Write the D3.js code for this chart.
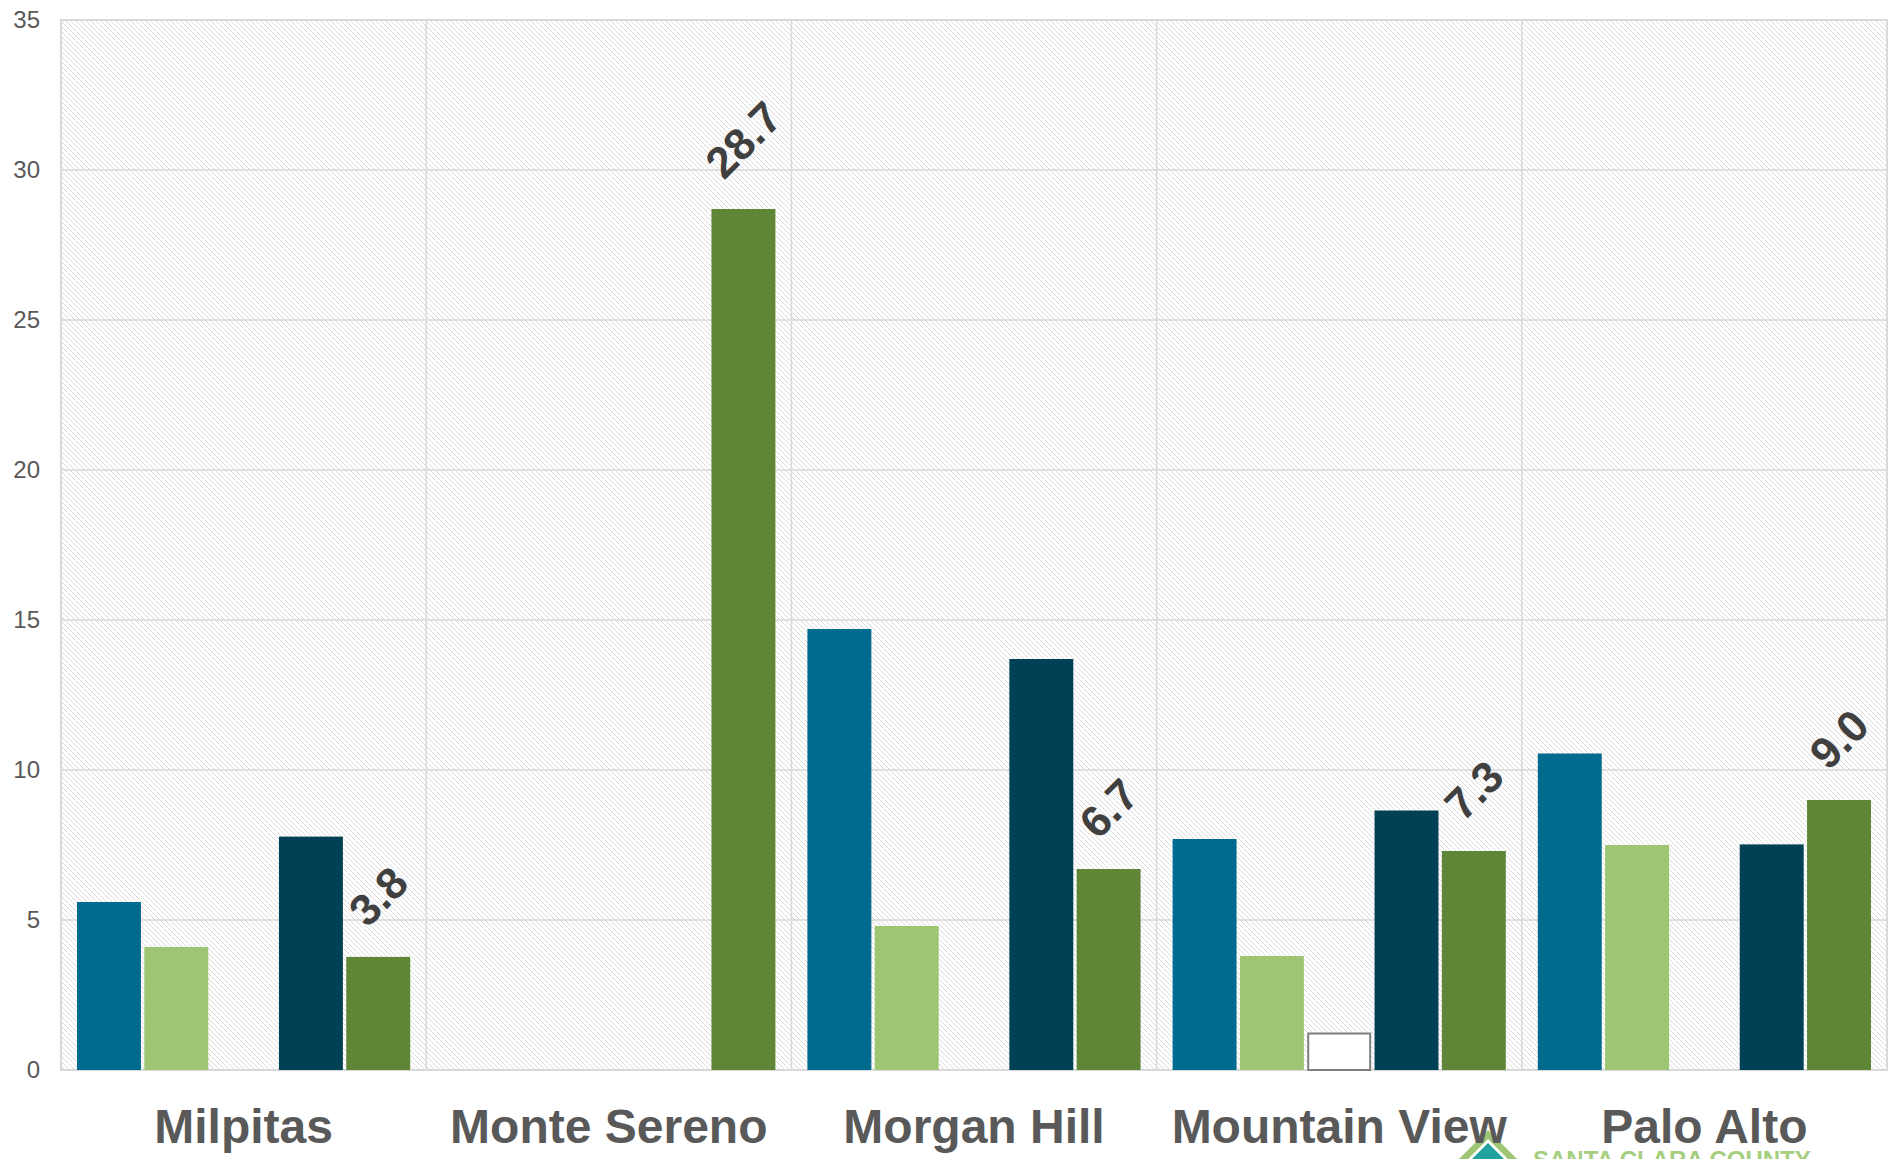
<!DOCTYPE html>
<html>
<head>
<meta charset="utf-8">
<script src="https://cdn.jsdelivr.net/npm/d3@7"></script>
<style>
  html, body { margin: 0; padding: 0; background: #ffffff; overflow: hidden; }
  svg { display: block; }
</style>
</head>
<body>
<svg id="chart" width="1896" height="1159"></svg>
<script>
// ---- data ----
const categories = ["Milpitas", "Monte Sereno", "Morgan Hill", "Mountain View", "Palo Alto"];
const seriesKeys = ["s1", "s2", "s3", "s4", "s5"];
const s1 = [5.6, null, 14.7, 7.7, 10.55];
const s2 = [4.1, null, 4.8, 3.8, 7.5];
const s3 = [null, null, null, 1.25, null];
const s4 = [7.78, null, 13.7, 8.65, 7.52];
const s5 = [3.77, 28.7, 6.7, 7.3, 9.0];
const labelSeries = "s5";
const yTicks = [0, 5, 10, 15, 20, 25, 30, 35];
const seriesColors = { s1: "#006b8e", s2: "#9dc573", s3: "#ffffff", s4: "#004155", s5: "#5e8636" };
const seriesStroke = { s1: "none", s2: "none", s3: "#7f7f7f", s4: "none", s5: "none" };
const logoText = "SANTA CLARA COUNTY";

const seriesValues = { s1, s2, s3, s4, s5 };

// ---- layout ----
const W = 1896, H = 1159;
const plot = { left: 61, top: 20, right: 1887, bottom: 1070 };
const svg = d3.select("#chart");

// hatch pattern
const defs = svg.append("defs");
const pat = defs.append("pattern")
  .attr("id", "hatch").attr("patternUnits", "userSpaceOnUse")
  .attr("width", 5).attr("height", 5);
pat.append("rect").attr("width", 5).attr("height", 5).attr("fill", "#ffffff");
pat.append("path").attr("d", "M-1,-1 L6,6 M-1,4 L1,6 M4,-1 L6,1")
  .attr("stroke", "#dadada").attr("stroke-width", 1);

const x0 = d3.scaleBand().domain(categories).range([plot.left, plot.right]).padding(0);
const cw = x0.bandwidth();
const x1 = d3.scaleBand().domain(seriesKeys).range([16, cw - 16]).paddingInner(0.05).paddingOuter(0);
const y = d3.scaleLinear().domain([0, 35]).range([plot.bottom, plot.top]);

// background
svg.append("rect")
  .attr("x", plot.left).attr("y", plot.top)
  .attr("width", plot.right - plot.left).attr("height", plot.bottom - plot.top)
  .attr("fill", "url(#hatch)");

// horizontal gridlines
svg.append("g").selectAll("line").data(yTicks).join("line")
  .attr("x1", plot.left).attr("x2", plot.right)
  .attr("y1", d => y(d)).attr("y2", d => y(d))
  .attr("stroke", "#d9d9d9").attr("stroke-width", 1.5);

// vertical category separators
const seps = categories.slice(1).map(c => x0(c));
svg.append("g").selectAll("line").data(seps).join("line")
  .attr("x1", d => d).attr("x2", d => d)
  .attr("y1", plot.top).attr("y2", plot.bottom)
  .attr("stroke", "#d9d9d9").attr("stroke-width", 1.5);

// plot border
svg.append("rect")
  .attr("x", plot.left).attr("y", plot.top)
  .attr("width", plot.right - plot.left).attr("height", plot.bottom - plot.top)
  .attr("fill", "none").attr("stroke", "#d9d9d9").attr("stroke-width", 2);

// y axis labels
const yAxis = d3.axisLeft(y).tickValues(yTicks).tickSize(0).tickPadding(0).tickFormat(d3.format("d"));
const gy = svg.append("g").attr("transform", `translate(40,0)`).call(yAxis);
gy.select(".domain").remove();
gy.selectAll("text")
  .attr("font-family", "Liberation Sans, Arial, sans-serif")
  .attr("font-size", 24).attr("fill", "#595959");

// bars
const barData = [];
categories.forEach((c, i) => {
  seriesKeys.forEach(k => {
    const v = seriesValues[k][i];
    if (v !== null && v !== undefined) barData.push({ c, k, v });
  });
});

svg.append("g").selectAll("rect").data(barData).join("rect")
  .attr("x", d => x0(d.c) + x1(d.k) + (d.k === "s3" ? 1 : 0))
  .attr("width", d => x1.bandwidth() - (d.k === "s3" ? 2 : 0))
  .attr("y", d => y(d.v) + (d.k === "s3" ? 1 : 0))
  .attr("height", d => plot.bottom - y(d.v) - (d.k === "s3" ? 1 : 0))
  .attr("fill", d => seriesColors[d.k])
  .attr("stroke", d => seriesStroke[d.k])
  .attr("stroke-width", 2);

// data labels (rotated)
const fs = 44;
const lbl = svg.append("g");
barData.filter(d => d.k === labelSeries).forEach(d => {
  const cx = x0(d.c) + x1(d.k) + x1.bandwidth() / 2;
  const t = lbl.append("text")
    .attr("font-family", "Liberation Sans, Arial, sans-serif")
    .attr("font-weight", "bold").attr("font-size", fs)
    .attr("fill", "#404040")
    .attr("text-anchor", "middle")
    .attr("dominant-baseline", "central")
    .text(d3.format(".1f")(d.v));
  const L = t.node().getComputedTextLength();
  const ext = (L + 0.72 * fs) / Math.SQRT2;
  const cy = y(d.v) - 28 - ext / 2;
  t.attr("transform", `translate(${cx},${cy}) rotate(-45)`);
});

// logo (partially visible at bottom)
const logo = svg.append("g");
logo.append("path")
  .attr("d", "M1488,1130 L1532,1174 L1488,1218 L1444,1174 Z")
  .attr("fill", "#9dc573");
logo.append("path")
  .attr("d", "M1488,1139 L1523,1174 L1488,1209 L1453,1174 Z")
  .attr("fill", "#ffffff");
logo.append("path")
  .attr("d", "M1488,1143 L1519,1174 L1488,1205 L1457,1174 Z")
  .attr("fill", "#20a39e");
logo.append("text")
  .attr("x", 1533).attr("y", 1168)
  .attr("font-family", "Liberation Sans, Arial, sans-serif")
  .attr("font-weight", "bold").attr("font-size", 24)
  .attr("fill", "#a5cf7f")
  .text(logoText);

// category labels
svg.append("g").selectAll("text").data(categories).join("text")
  .attr("x", d => x0(d) + cw / 2)
  .attr("y", 1143)
  .attr("text-anchor", "middle")
  .attr("font-family", "Liberation Sans, Arial, sans-serif")
  .attr("font-weight", "bold").attr("font-size", 48)
  .attr("fill", "#595959")
  .text(d => d);
</script>
</body>
</html>
